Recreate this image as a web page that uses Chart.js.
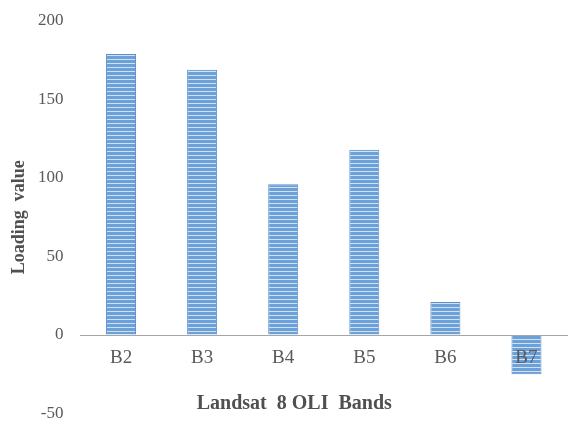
<!DOCTYPE html>
<html>
<head>
<meta charset="utf-8">
<script src="https://cdn.jsdelivr.net/npm/chart.js@4"></script>
<style>
  html, body { margin: 0; padding: 0; background: #ffffff; }
  #wrap { width: 573px; height: 434px; }
</style>
</head>
<body>
<div id="wrap"><canvas id="chart" width="573" height="434"></canvas></div>
<script>
// Loading of each Landsat 8 OLI band
const bands = ['B2', 'B3', 'B4', 'B5', 'B6', 'B7'];
const loadings = [179, 169, 96, 118, 21, -25];
const yTicks = [-50, 0, 50, 100, 150, 200];
const xCaption = 'Landsat  8 OLI  Bands';
const yCaption = 'Loading  value';

// Horizontal-stripe fill for the bars
function stripeFill() {
  const c = document.createElement('canvas');
  c.width = 4; c.height = 4;
  const g = c.getContext('2d');
  g.fillStyle = '#6ca0d8';
  g.fillRect(0, 0, 4, 4);
  g.fillStyle = '#cfe1f5';
  g.fillRect(0, 3, 4, 1);
  return g.createPattern(c, 'repeat');
}

const serif = '"Liberation Serif", "Times New Roman", serif';

// Caption under the category axis
const xCaptionPlugin = {
  id: 'xCaption',
  afterDraw(chart) {
    const { ctx, chartArea, scales } = chart;
    const y0 = scales.y.getPixelForValue(0);
    ctx.save();
    ctx.font = 'bold 20px ' + serif;
    ctx.fillStyle = '#505050';
    ctx.textAlign = 'center';
    ctx.textBaseline = 'middle';
    ctx.fillText(xCaption, (chartArea.left + chartArea.right) / 2 - 29.5, y0 + 69);
    ctx.restore();
  }
};

new Chart(document.getElementById('chart'), {
  type: 'bar',
  data: {
    labels: bands,
    datasets: [{
      data: loadings,
      backgroundColor: stripeFill(),
      borderColor: '#5b8ecb',
      borderWidth: 1,
      barPercentage: 0.37,
      categoryPercentage: 1.0
    }]
  },
  options: {
    responsive: false,
    animation: false,
    devicePixelRatio: 1,
    layout: { padding: { top: 21, right: 6, bottom: 20.5, left: 0 } },
    plugins: {
      legend: { display: false },
      tooltip: { enabled: false },
      title: { display: false }
    },
    scales: {
      x: {
        position: { y: 0 },
        grid: { display: false, drawTicks: false },
        border: { display: true, color: '#a6a6a6', width: 1, z: 1 },
        ticks: {
          z: 1,
          padding: 12,
          color: '#595959',
          font: { family: serif, size: 19 }
        }
      },
      y: {
        min: -50,
        max: 200,
        afterBuildTicks(scale) {
          scale.ticks = yTicks.map(v => ({ value: v }));
        },
        // invisible tick marks keep the labels clear of the plot edge
        grid: { display: true, color: 'transparent', drawOnChartArea: false, drawTicks: true, tickLength: 17 },
        border: { display: false },
        ticks: {
          padding: 0,
          color: '#595959',
          font: { family: serif, size: 17 }
        },
        title: {
          display: true,
          text: yCaption,
          color: '#505050',
          font: { family: serif, size: 18, weight: 'bold', lineHeight: 1 },
          padding: { top: 10, bottom: 10 }
        }
      }
    }
  },
  plugins: [xCaptionPlugin]
});
</script>
</body>
</html>
